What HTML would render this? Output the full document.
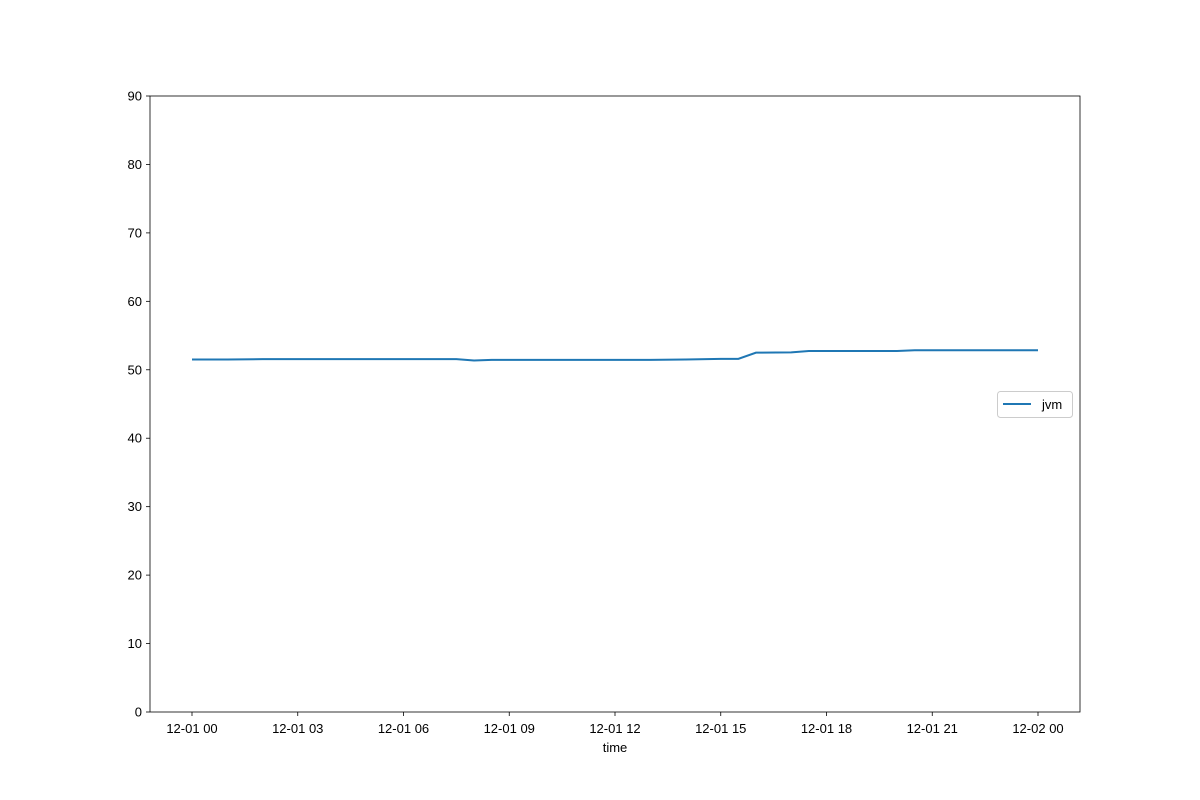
<!DOCTYPE html>
<html><head><meta charset="utf-8"><style>
body{margin:0;background:#fff;}
svg{display:block;font-family:"Liberation Sans","DejaVu Sans",sans-serif;}
</style></head><body>
<svg id="chart" width="1200" height="800">
<rect x="0" y="0" width="1200" height="800" fill="#fff"/>
<g id="plot"></g>
</svg>
<script>
const hours = [0,1,2,3,4,5,6,7,7.5,8,8.5,9,10,11,12,13,14,15,15.5,16,17,17.5,18,19,20,20.5,21,22,23,24];
const jvm = [51.5,51.5,51.55,51.55,51.55,51.55,51.55,51.55,51.55,51.35,51.45,51.45,51.45,51.45,51.45,51.45,51.5,51.6,51.6,52.5,52.55,52.75,52.75,52.75,52.75,52.85,52.85,52.85,52.85,52.85];
const yTicks = [0,10,20,30,40,50,60,70,80,90];
const xTickHours = [0,3,6,9,12,15,18,21,24];
const xTickLabels = ["12-01 00","12-01 03","12-01 06","12-01 09","12-01 12","12-01 15","12-01 18","12-01 21","12-02 00"];
const L=150,R=1080,T=96,B=712;
const xs=h=>192+h*(1038-192)/24;
const ys=v=>B-(v/90)*(B-T);
const NS="http://www.w3.org/2000/svg";
const g=document.getElementById('plot');
function mk(tag,a){const e=document.createElementNS(NS,tag);for(const k in a)e.setAttribute(k,a[k]);g.appendChild(e);return e;}
yTicks.forEach(v=>{
  const t=mk('line',{x1:L-4,x2:L,y1:ys(v),y2:ys(v),stroke:'#000','stroke-width':0.8});
  
  
  const l=mk('text',{x:L-8,y:ys(v)+4.5,'text-anchor':'end','font-size':13});
  l.textContent=v;
  
  
});
xTickHours.forEach((h,i)=>{
  const t=mk('line',{x1:xs(h),x2:xs(h),y1:B,y2:B+4,stroke:'#000','stroke-width':0.8});
  
  
  const l=mk('text',{x:xs(h),y:B+21,'text-anchor':'middle','font-size':13});
  l.textContent=xTickLabels[i];
  
  
});
const line=mk('polyline',{points:hours.map((h,i)=>xs(h)+','+ys(jvm[i])).join(' '),fill:'none',stroke:'#1f77b4','stroke-width':2});


const fr=mk('rect',{x:L,y:T,width:R-L,height:B-T,fill:'none',stroke:'#000','stroke-width':0.8});


const xt=mk('text',{x:615,y:752,'text-anchor':'middle','font-size':13});
xt.textContent='time';


const lg=mk('rect',{x:997.5,y:391.5,width:75,height:26,rx:3,fill:'#fff',stroke:'#ccc','stroke-width':1});


const ll=mk('line',{x1:1003,x2:1031,y1:404,y2:404,stroke:'#1f77b4','stroke-width':2});


const lt=mk('text',{x:1042,y:409,'font-size':13});
lt.textContent='jvm';


</script>
</body></html>
